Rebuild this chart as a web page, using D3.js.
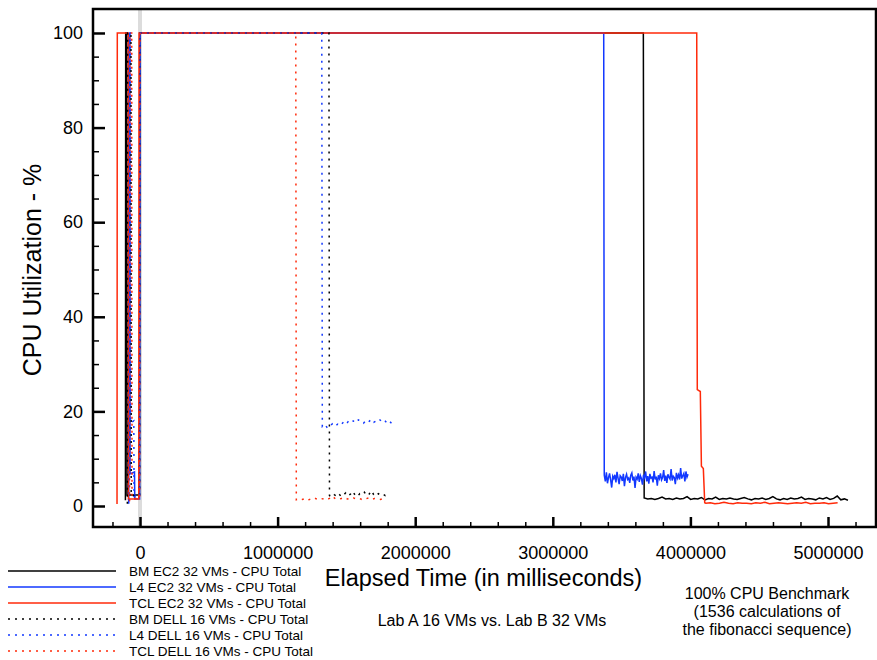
<!DOCTYPE html>
<html>
<head>
<meta charset="utf-8">
<script src="https://cdn.jsdelivr.net/npm/d3@7"></script>
<style>
  body { margin: 0; background: #fff; }
  svg { font-family: "Liberation Sans", Arial, Helvetica, sans-serif; }
</style>
</head>
<body>
<div id="chart"></div>
<script>
/*
** Data: CPU utilisation (%) against elapsed time (ms)
*/
// key points [time, value] for each run, then a sampled idle tail
var bmEc2Head  = [[-106000, 1.2], [-104000, 100], [-96000, 100], [-94000, 2.3],
                  [-4000, 2.3], [-1000, 100], [3658000, 100]]
  , bmEc2Span  = [3664000, 5145000]
  , bmEc2Tail  = [1.7, 1.5, 1.6, 1.4, 1.6, 1.9, 1.5, 1.6, 1.4, 1.7, 1.5, 1.6, 2.0, 1.4,
                  1.6, 1.5, 1.8, 1.3, 1.6, 1.5, 1.9, 1.4, 1.6, 1.5, 1.7, 1.5, 1.4, 1.6,
                  1.8, 1.5, 1.3, 1.6, 1.5, 1.7, 1.4, 1.6, 2.0, 1.5, 1.3, 1.6, 1.4, 1.7,
                  1.5, 1.6, 1.9, 1.4, 1.6, 1.5, 1.3, 1.7, 1.5, 1.8, 1.4, 1.6, 2.1, 1.3,
                  1.5, 1.2]

  , l4Ec2Head  = [[-82000, 0.5], [-80000, 100], [-74000, 100], [-72000, 6.8],
                  [-40000, 7.2], [-38000, 1.5], [-3000, 1.5], [0, 100], [3370000, 100]]
  , l4Ec2Span  = [3374000, 3983000]
  , l4Ec2Tail  = [6.5, 5.2, 7.1, 4.8, 6.0, 6.9, 5.5, 3.9, 6.3, 5.8, 6.6, 5.0, 7.2, 5.9,
                  4.6, 6.4, 6.1, 5.3, 6.8, 4.2, 6.0, 6.7, 5.6, 5.9, 4.9, 6.5, 7.0, 5.4,
                  6.2, 3.8, 6.1, 5.7, 6.9, 5.1, 6.4, 5.8, 4.5, 6.6, 6.0, 7.3, 5.2, 6.3,
                  4.7, 6.8, 5.9, 6.1, 5.0, 7.4, 5.6, 6.2, 4.3, 6.5, 5.8, 6.9, 5.5, 6.0,
                  7.6, 5.3, 6.4, 4.9, 6.7, 6.1, 5.7, 7.8, 5.4, 6.3, 6.0, 4.6, 7.0, 5.9,
                  6.6, 5.6, 8.0, 5.8, 6.4, 6.9, 5.2, 7.3, 6.1, 6.7]

  , tclEc2Head = [[-167000, 0.4], [-165000, 100], [-86000, 100], [-84000, 1.5],
                  [-9000, 1.5], [-7000, 100], [4046000, 100], [4050000, 24.6],
                  [4072000, 24.2], [4080000, 8.4], [4094000, 7.9], [4104000, 0.7]]
  , tclEc2Span = [4112000, 5070000]
  , tclEc2Tail = [0.6, 0.7, 0.5, 0.6, 0.8, 0.6, 0.5, 0.7, 0.6, 0.6, 0.5, 0.7, 0.6, 0.8,
                  0.5, 0.6, 0.7, 0.6, 0.5, 0.6, 0.7, 0.6, 0.8, 0.5, 0.6, 0.6, 0.7, 0.5,
                  0.6, 0.7]

  , bmDellHead = [[-92000, 0.5], [-90000, 100], [-66000, 100], [-64000, 2.2],
                  [-3000, 2.2], [0, 100], [1373000, 100]]
  , bmDellSpan = [1377000, 1800000]
  , bmDellTail = [2.2, 1.9, 2.4, 2.1, 2.6, 2.0, 2.3, 2.8, 2.2, 2.5, 3.1, 2.3, 2.0, 2.6,
                  2.4, 2.9, 2.2, 2.5, 3.2, 2.4, 2.1, 2.6, 2.3, 2.5, 2.2, 2.4]

  , l4DellHead = [[-80000, 1.0], [-78000, 100], [-70000, 100], [-68000, 17.6],
                  [-45000, 18.0], [-43000, 2.0], [-3000, 2.0], [0, 100], [1321000, 100]]
  , l4DellSpan = [1325000, 1830000]
  , l4DellTail = [16.8, 17.2, 16.5, 17.0, 17.4, 16.9, 17.3, 17.0, 17.6, 17.2, 17.8, 17.5,
                  18.0, 17.6, 18.2, 17.9, 17.5, 18.1, 17.8, 18.3, 17.7, 18.0, 18.4, 17.9,
                  18.2, 17.6, 18.0, 17.4]

  , tclDellHead = [[-76000, 1.0], [-74000, 100], [-60000, 100], [-58000, 1.6],
                   [-3000, 1.6], [0, 100], [1132000, 100]]
  , tclDellSpan = [1136000, 1770000]
  , tclDellTail = [1.3, 1.5, 1.4, 1.6, 1.3, 1.5, 1.7, 1.4, 1.6, 1.5, 1.3, 1.6, 2.1, 1.5,
                   1.4, 1.6, 1.8, 1.5, 1.4, 1.7, 1.5, 1.6, 1.3, 1.5, 1.7, 1.4, 1.6, 1.5,
                   1.4, 1.6]

  , seriesNames = ["BM EC2 32 VMs - CPU Total", "L4 EC2 32 VMs - CPU Total",
                   "TCL EC2 32 VMs - CPU Total", "BM DELL 16 VMs - CPU Total",
                   "L4 DELL 16 VMs - CPU Total", "TCL DELL 16 VMs - CPU Total"]
  , xMajorTicks = [0, 1000000, 2000000, 3000000, 4000000, 5000000]
  , yMajorTicks = [0, 20, 40, 60, 80, 100]
  , notes = ["100% CPU Benchmark", "(1536 calculations of", "the fibonacci sequence)"]
;

/*
** Helpers
*/
// join the key points with the tail samples spread over the tail span
function build(head, span, tail) {
    var step = (span[1] - span[0]) / (tail.length - 1);
    return head.concat(tail.map(function(v, i) { return [span[0] + i * step, v]; }));
}

var series = [
    {name: seriesNames[0], color: "#000000", dash: null, data: build(bmEc2Head, bmEc2Span, bmEc2Tail)}
  , {name: seriesNames[1], color: "#1238ff", dash: null, data: build(l4Ec2Head, l4Ec2Span, l4Ec2Tail)}
  , {name: seriesNames[2], color: "#ff2a0a", dash: null, data: build(tclEc2Head, tclEc2Span, tclEc2Tail)}
  , {name: seriesNames[3], color: "#000000", dash: "2,5", data: build(bmDellHead, bmDellSpan, bmDellTail)}
  , {name: seriesNames[4], color: "#1238ff", dash: "2,5", data: build(l4DellHead, l4DellSpan, l4DellTail)}
  , {name: seriesNames[5], color: "#ff2a0a", dash: "2,5", data: build(tclDellHead, tclDellSpan, tclDellTail)}
];

/*
** Layout
*/
var W = 877, H = 660
  , plot = {left: 93, right: 876, top: 9, bottom: 527}
  , x = d3.scaleLinear().domain([-341600, 5348800]).range([plot.left, plot.right])
  , y = d3.scaleLinear().domain([-4.44, 105.07]).range([plot.bottom, plot.top])
  , line = d3.line()
      .x(function(d) { return x(d[0]); })
      .y(function(d) { return y(d[1]); })
;

var svg = d3.select("#chart")
  .append("svg")
    .attr("width", W)
    .attr("height", H)
;

// light grey marker at time zero
svg.append("line")
    .attr("x1", x(0)).attr("x2", x(0))
    .attr("y1", plot.top).attr("y2", plot.bottom)
    .attr("stroke", "#dcdcdc")
    .attr("stroke-width", 4)
;

// data lines: dotted runs drawn over the solid ones
svg.append("g")
  .selectAll("path")
    .data(series)
  .enter()
  .append("path")
    .attr("d", function(d) { return line(d.data); })
    .attr("fill", "none")
    .attr("stroke", function(d) { return d.color; })
    .attr("stroke-width", 1.5)
    .attr("stroke-dasharray", function(d) { return d.dash; })
;

// frame
svg.append("rect")
    .attr("x", plot.left).attr("y", plot.top)
    .attr("width", plot.right - plot.left)
    .attr("height", plot.bottom - plot.top)
    .attr("fill", "none")
    .attr("stroke", "#000")
    .attr("stroke-width", 2.5)
;

/*
** Axes: ticks point inward
*/
var xMinor = d3.range(-200000, 5300000, 200000).filter(function(t) { return t % 1000000 !== 0; })
  , yMinor = d3.range(5, 100, 5).filter(function(t) { return t % 20 !== 0; })
;

svg.append("g")
    .attr("transform", "translate(0," + plot.bottom + ")")
    .call(d3.axisBottom(x).tickValues(xMinor).tickSize(-5).tickFormat(""))
    .call(function(g) { g.select(".domain").remove(); g.selectAll("line").attr("stroke-width", 1.5); })
;
svg.append("g")
    .attr("transform", "translate(0," + plot.bottom + ")")
    .call(d3.axisBottom(x).tickValues(xMajorTicks).tickSize(-10).tickPadding(19)
            .tickFormat(d3.format("d")))
    .call(function(g) {
        g.select(".domain").remove();
        g.selectAll("line").attr("stroke-width", 2.5);
        g.selectAll("text").attr("font-size", 18).attr("font-family", null).attr("fill", "#000");
      })
;
svg.append("g")
    .attr("transform", "translate(" + plot.left + ",0)")
    .call(d3.axisLeft(y).tickValues(yMinor).tickSize(-6).tickFormat(""))
    .call(function(g) { g.select(".domain").remove(); g.selectAll("line").attr("stroke-width", 1.5); })
;
svg.append("g")
    .attr("transform", "translate(" + plot.left + ",0)")
    .call(d3.axisLeft(y).tickValues(yMajorTicks).tickSize(-12).tickPadding(10))
    .call(function(g) {
        g.select(".domain").remove();
        g.selectAll("line").attr("stroke-width", 2.5);
        g.selectAll("text").attr("font-size", 18).attr("font-family", null).attr("fill", "#000");
      })
;

// axis titles
svg.append("text")
    .attr("x", (plot.left + plot.right) / 2 - 1)
    .attr("y", 586)
    .attr("text-anchor", "middle")
    .attr("font-size", 23.5)
    .text("Elapsed Time (in milliseconds)")
;
svg.append("text")
    .attr("transform", "translate(41," + ((plot.top + plot.bottom) / 2 + 2) + ") rotate(-90)")
    .attr("text-anchor", "middle")
    .attr("font-size", 25)
    .text("CPU Utilization - %")
;

/*
** Legend
*/
var legend = svg.append("g")
  .selectAll("g")
    .data(series)
  .enter()
  .append("g")
    .attr("transform", function(d, i) { return "translate(0," + (571 + i * 16) + ")"; })
;
legend.append("line")
    .attr("x1", 8).attr("x2", 116)
    .attr("stroke", function(d) { return d.color; })
    .attr("stroke-width", 1.3)
    .attr("stroke-dasharray", function(d) { return d.dash; })
;
legend.append("text")
    .attr("x", 129)
    .attr("y", 5)
    .attr("font-size", 13.5)
    .text(function(d) { return d.name; })
;

/*
** Notes
*/
svg.append("text")
    .attr("x", 492).attr("y", 626)
    .attr("text-anchor", "middle")
    .attr("font-size", 16)
    .text("Lab A 16 VMs vs. Lab B 32 VMs")
;
svg.append("g")
  .selectAll("text")
    .data(notes)
  .enter()
  .append("text")
    .attr("x", 767)
    .attr("y", function(d, i) { return 599 + i * 18; })
    .attr("text-anchor", "middle")
    .attr("font-size", 16)
    .text(function(d) { return d; })
;
</script>
</body>
</html>
